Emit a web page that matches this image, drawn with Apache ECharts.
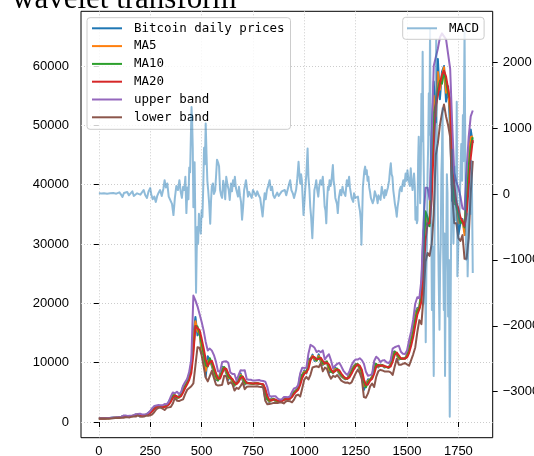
<!DOCTYPE html>
<html><head><meta charset="utf-8">
<script src="https://cdn.jsdelivr.net/npm/echarts@6/dist/echarts.min.js"></script>
<style>html,body{margin:0;padding:0;background:#fff}#c{width:534px;height:456px}</style>
</head><body><div id="c"></div>
<script>
// sampling step of the price-axis series (days)
const dayStep = 10;
const price = [607,606,603,612,638,652,704,705,738,765,
778,892,1033,823,924,1007,999,1125,1260,1240,
937,1143,1170,1240,1494,1760,2260,2490,2650,2710,
2500,2380,2830,2720,3420,4000,4760,4330,3910,4360,
4770,6000,6130,7140,8040,9890,14700,17700,14600,15200,
11500,11500,7600,11100,10400,9400,8200,7100,7000,8200,
9300,9200,8200,7100,7700,6500,6100,6800,7300,8200,
7000,6300,6700,6500,6500,6400,6600,6500,6400,6400,
6200,3800,3900,3300,4000,3800,3500,3580,3500,3600,
3980,3800,3900,4000,4900,5070,5400,5800,8000,7900,
8700,8200,10700,10600,11350,10300,10400,11400,10100,9600,
10100,10200,8300,8600,8200,9200,8800,8100,7700,7400,
7200,7400,8100,8900,9400,9800,9700,8800,8000,5400,
6300,7200,7100,7700,9900,9700,9200,9700,9500,9200,
9300,9100,9900,11700,11900,11300,10500,10700,10700,10700,
11400,13000,14000,16300,18400,19200,19300,23200,32200,34000,
33000,33500,47900,57400,50500,61200,54400,59000,60000,54000,
56600,49300,37300,36700,37300,31600,33500,34200,32100,41400,
45500,49300,47000];
const ma5 = [607,606,604,610,632,649,691,705,730,758,
775,864,998,875,899,986,1001,1094,1226,1245,
1013,1092,1163,1223,1431,1693,2135,2433,2610,2695,
2553,2410,2718,2748,3245,3855,4570,4438,4015,4248,
4668,5693,6098,6888,7815,9428,13500,17000,15300,15000,
12400,11500,8575,10225,10575,9650,8500,7375,7025,7900,
9025,9225,8450,7375,7550,6800,6200,6625,7175,7975,
7300,6475,6600,6550,6500,6425,6550,6525,6425,6400,
6250,4400,3875,3450,3825,3850,3575,3560,3520,3575,
3885,3845,3875,3975,4675,5028,5318,5700,7450,7925,
8500,8325,10075,10625,11163,10563,10375,11150,10425,9725,
9975,10175,8775,8525,8300,8950,8900,8275,7800,7475,
7250,7350,7925,8700,9275,9700,9725,9025,8200,6050,
6075,6975,7125,7550,9350,9750,9325,9575,9550,9275,
9275,9150,9700,11250,11850,11450,10700,10650,10700,10700,
11225,12600,13750,15725,17875,19000,19275,22500,29500,35000,
33500,33500,45500,55000,51500,59000,56000,58300,59800,55500,
56000,52000,40000,37000,36500,33500,33800,34000,31500,39500,
44800,48000,48200];
const ma10 = [607,606,605,608,625,645,678,705,722,752,
772,835,963,928,874,966,1003,1062,1193,1250,
1089,1040,1157,1205,1367,1627,2010,2375,2570,2680,
2605,2440,2605,2775,3070,3710,4380,4545,4120,4135,
4565,5385,6065,6635,7590,8965,12300,16200,16100,14900,
13300,11500,9550,9350,10750,9900,8800,7650,7050,7600,
8750,9250,8700,7650,7400,7100,6300,6450,7050,7750,
7600,6650,6500,6600,6500,6450,6500,6550,6450,6400,
6300,5000,3850,3600,3650,3900,3650,3540,3540,3550,
3790,3890,3850,3950,4450,4985,5235,5600,6900,7950,
8300,8450,9450,10650,10975,10825,10350,10900,10750,9850,
9850,10150,9250,8450,8400,8700,9000,8450,7900,7550,
7300,7300,7750,8500,9150,9600,9750,9250,8400,6700,
5850,6750,7150,7400,8800,9800,9450,9450,9600,9350,
9250,9200,9500,10800,11800,11600,10900,10600,10700,10700,
11050,12200,13500,15150,17350,18800,19250,21500,27500,35500,
34500,33000,41000,52000,53500,56000,57500,57000,59000,57500,
55300,54500,44000,37500,36500,35000,33500,33800,32800,37000,
43000,46500,48000];
const ma20 = [607,606,606,606,616,635,662,691,713,737,
762,803,899,945,901,920,984,1033,1127,1221,
1169,1064,1098,1181,1286,1497,1819,2193,2473,2625,
2643,2523,2523,2690,2923,3390,4045,4463,4333,4128,
4350,4975,5725,6350,7113,8278,11500,16200,15800,15500,
14100,12425,10525,9450,10050,10325,9350,8225,7350,7325,
8175,9000,8975,8175,7525,7250,6700,6375,6750,7400,
7675,7125,6575,6550,6550,6475,6475,6525,6500,6425,
6350,5650,4425,3725,3625,3775,3775,3595,3540,3545,
3670,3840,3870,3900,4200,4718,5110,5418,6250,7425,
8125,8375,8950,10400,11000,10900,10588,10625,10825,10300,
9850,10000,9700,8850,8425,8550,8850,8725,8175,7725,
7425,7300,7525,8125,8825,9375,9675,9500,8825,7200,
6275,6300,6950,7275,8100,9300,9625,9450,9525,9475,
9300,9225,9350,10150,11300,11700,11250,10750,10650,10700,
10875,11625,12850,14325,16250,18075,19025,20300,24500,30500,
33500,33500,37500,46500,53300,55000,57000,58500,59200,58200,
56200,54000,45000,40000,37000,36000,34500,33800,33000,35000,
39500,44500,47500];
const upperBand = [620,620,632,634,660,685,726,749,761,801,
816,909,1083,1085,1021,1062,1068,1143,1325,1335,
1403,1264,1278,1285,1526,1859,2335,2705,2797,2859,
2837,2815,3023,2996,3381,4268,4985,4833,5093,4728,
5022,6127,6743,7266,8505,10536,21300,20500,19500,18200,
16900,15400,13500,12050,12370,12030,11280,10135,8560,8475,
10080,10210,10240,9965,8340,8105,8100,6995,7920,8730,
8675,8725,7210,7125,7125,6985,6985,7040,7070,6935,
6910,6800,5900,4400,4300,4330,4330,3975,3788,3805,
4205,4225,4185,4290,5075,5668,5758,6222,8196,9163,
9099,9135,11500,13000,12800,12500,11790,12007,11757,12066,
10540,11048,11424,10398,9073,9496,9796,9973,9385,8671,
8235,7928,8573,9563,10197,10553,10527,10746,10429,9800,
8475,7784,7900,8075,10292,10996,10705,10112,10365,10429,
10068,9929,10352,12368,12600,12752,12850,11850,11512,11450,
12043,13773,15258,17241,19940,21023,20879,24000,33500,39500,
39500,37500,48000,60000,61500,62900,64800,65500,65000,64500,
62000,59500,50000,42000,40500,39500,38000,36000,35800,42500,
48000,51500,52500];
const lowerBand = [595,592,580,578,572,585,598,633,665,673,
708,697,715,805,781,778,900,923,929,1107,
935,864,918,1077,1046,1135,1303,1681,2149,2391,
2449,2231,2023,2384,2465,2512,3105,4093,3573,3528,
3678,3823,4707,5434,5721,6020,6500,9500,12600,12500,
11300,9400,7500,6850,7730,8620,7420,6315,6140,6175,
6270,7790,7710,6385,6710,6395,5300,5755,5580,6070,
6675,5525,5940,5975,5975,5965,5965,6010,5930,5915,
5790,3600,3000,3050,3100,3220,3220,3215,3292,3285,
3135,3455,3555,3510,3325,3768,4462,4614,4304,5687,
7151,7615,7164,7954,9200,9300,9390,9243,9893,8534,
9160,8952,7976,7302,7777,7604,7904,7477,6965,6779,
6615,6672,6477,6687,7453,8197,8823,8254,7221,4200,
4100,4816,6000,6475,5908,7604,8545,8788,8685,8521,
8532,8521,8348,7932,9348,10648,9650,9650,9788,9950,
9707,9477,10442,11409,12560,15127,17171,16500,21000,27000,
28500,28000,30000,35000,45000,47000,50000,52000,53500,51500,
50000,48000,38000,33500,33500,31000,30500,31500,27500,27500,
31000,38500,44000];

const macdDays = [0,12,25,40,55,70,85,100,108,115,122,130,138,146,155,163,170,178,186,194,202,210,218,226,234,242,250,256,262,270,277,284,291,298,306,314,320,326,333,340,348,356,363,370,377,385,392,398,404,410,416,421,426,431,436,440,444,448,451,454,457,460,463,466,469,473,476,479,483,487,491,496,500,504,508,512,516,520,524,528,532,537,542,546,550,555,560,566,571,575,580,585,590,595,600,605,610,615,620,626,632,637,643,648,653,658,662,667,672,677,682,687,692,697,702,707,712,716,721,726,731,737,744,750,757,764,771,778,785,792,797,802,807,812,818,824,831,837,843,849,855,861,868,875,883,890,898,905,912,920,926,931,937,944,950,955,960,966,972,976,980,984,988,992,996,1001,1005,1010,1016,1020,1025,1029,1033,1039,1044,1049,1054,1058,1063,1068,1072,1078,1084,1090,1095,1099,1103,1107,1111,1115,1119,1123,1127,1131,1135,1139,1143,1147,1151,1155,1159,1163,1168,1175,1180,1186,1190,1194,1200,1207,1212,1218,1222,1226,1230,1234,1238,1242,1248,1255,1261,1267,1271,1275,1278,1282,1285,1288,1292,1296,1300,1304,1308,1312,1316,1320,1324,1328,1333,1338,1343,1349,1353,1357,1361,1365,1371,1377,1381,1385,1389,1393,1397,1401,1407,1413,1417,1421,1425,1429,1433,1437,1441,1446,1450,1454,1459,1464,1469,1474,1478,1482,1487,1493,1498,1502,1506,1510,1514,1518,1522,1527,1531,1534,1538,1541,1545,1548,1551,1554,1557,1561,1564,1567,1570,1573,1576,1579,1582,1585,1588,1591,1594,1597,1600,1603,1606,1609,1612,1615,1618,1621,1625,1630,1633,1636,1639,1642,1645,1648,1651,1654,1658,1661,1664,1667,1670,1673,1676,1679,1682,1685,1688,1691,1694,1697,1700,1704,1708,1711,1714,1717,1720,1723,1726,1729,1732,1735,1738,1742,1745,1748,1752,1756,1760,1764,1768,1772,1775,1780,1783,1786,1789,1792,1795,1798,1801,1804,1807,1810,1813,1816,1820];
const macdValues = [10,8,12,5,10,15,5,25,-10,-45,15,5,30,-20,10,40,-30,-60,10,30,-10,20,60,-20,-60,40,90,-20,-80,-40,-120,-30,20,60,-30,80,210,100,160,-40,-30,-150,-320,-60,120,60,210,40,-60,110,60,260,-290,100,-80,400,330,900,1320,1100,700,-200,300,480,-300,-1500,-900,-500,-750,-300,-450,-600,-250,-350,100,700,450,1070,600,200,60,-150,-450,-100,120,160,0,50,300,520,480,420,60,-20,-60,200,120,-80,260,140,60,-90,160,40,210,120,260,90,60,-40,110,-30,-120,-390,-200,60,140,210,80,-40,30,10,-60,60,20,-30,40,-20,-60,-90,-340,-150,10,-80,60,120,210,60,110,-20,-60,-40,20,-30,-20,40,10,60,-20,80,150,210,60,10,-60,-70,60,240,490,300,160,300,210,-60,-320,-100,100,300,690,260,60,-200,-340,-670,-300,60,120,210,60,-40,100,210,140,260,40,-190,-250,-445,-100,110,60,210,120,160,300,440,200,110,-60,-40,-150,-290,-60,60,-20,110,40,60,-30,210,120,260,100,90,-60,-40,-120,10,-60,-90,-40,-190,-260,-400,-770,-300,100,210,350,415,300,360,200,260,100,30,-60,-40,-140,-90,40,60,-60,-140,-20,10,-90,110,40,10,-60,60,-20,30,100,210,360,465,300,260,60,-40,-150,-240,-344,-200,-90,60,110,40,150,210,120,310,200,360,250,260,120,390,200,60,200,310,100,-390,-200,-445,-395,500,870,300,-140,400,1520,800,2160,900,260,-1660,-900,-2250,-1200,-750,300,760,1530,900,2490,770,-300,-1760,-800,-2760,-1000,250,1200,2340,900,260,-500,-1250,-2060,-1100,-750,300,620,1300,-900,-1760,-600,-2760,-1200,-750,300,10,-1860,-1000,-3380,-2260,-900,300,670,-200,-750,-250,200,415,-400,1400,-1250,-1000,-400,-250,300,760,200,1200,500,2500,900,-600,-1000,-300,-1250,-800,-500,-100,160,-300,500,160,-1200];

const xTicks = [0,250,500,750,1000,1250,1500,1750];
const yTicksLeft = [0,10000,20000,30000,40000,50000,60000];
const yTicksRight = [-3000,-2000,-1000,0,1000,2000];
const seriesNames = ['Bitcoin daily prices','MA5','MA10','MA20','upper band','lower band'];
const seriesColors = ['#1f77b4','#ff7f0e','#2ca02c','#d62728','#9467bd','#8c564b'];
const seriesArrays = [price, ma5, ma10, ma20, upperBand, lowerBand];

const chart = echarts.init(document.getElementById('c'), null, {renderer:'canvas'});
const toPairs = arr => arr.map((v, i) => [i * dayStep, v]);
const plainNum = v => v < 0 ? '\u2212' + String(-v) : String(v);
const tickFont = {color:'#000', fontSize:13, fontFamily:'"Liberation Sans", Arial, sans-serif', formatter:plainNum};
const tickStyle = {show:true, length:5, inside:false, lineStyle:{color:'#000', width:1}};
const gridLine = {show:true, lineStyle:{color:'#cccccc', width:1, type:[1,2]}};
const legendText = {fontFamily:'"DejaVu Sans Mono", monospace', fontSize:12.5, color:'#000', lineHeight:14, padding:[0,0,0,7]};

const series = seriesArrays.map((arr, k) => ({
  type:'line', name:seriesNames[k], data:toPairs(arr), yAxisIndex:0, xAxisIndex:0,
  showSymbol:false, symbol:'none', silent:true, z:2,
  lineStyle:{width:2, color:seriesColors[k], join:'round'}, itemStyle:{color:seriesColors[k]}
}));
series.push({
  type:'line', name:'MACD', data:macdDays.map((d, i) => [d, macdValues[i]]), yAxisIndex:1, xAxisIndex:0,
  showSymbol:false, symbol:'none', silent:true, z:5,
  lineStyle:{width:2, color:'#1f77b4', opacity:0.5, join:'round'}, itemStyle:{color:'#1f77b4'}
});

chart.setOption({
  animation:false,
  backgroundColor:'#fff',
  grid:{left:81, right:41.3, top:11.3, bottom:18.3, show:true, borderColor:'#000', borderWidth:1,
        backgroundColor:'transparent', containLabel:false, outerBoundsMode:'none'},
  xAxis:{type:'value', min:-87, max:1917,
    axisLine:{show:false}, axisTick:Object.assign({customValues:xTicks}, tickStyle),
    axisLabel:Object.assign({margin:7, customValues:xTicks}, tickFont),
    splitLine:gridLine},
  yAxis:[
    {type:'value', min:-2646, max:69220, position:'left',
     axisLine:{show:false}, axisTick:Object.assign({customValues:yTicksLeft}, tickStyle),
     axisLabel:Object.assign({margin:12, customValues:yTicksLeft}, tickFont),
     splitLine:gridLine},
    {type:'value', min:-3698, max:2772, position:'right',
     axisLine:{show:false}, axisTick:Object.assign({customValues:yTicksRight}, tickStyle),
     axisLabel:Object.assign({margin:10, customValues:yTicksRight}, tickFont),
     splitLine:{show:false}}
  ],
  legend:[
    {orient:'vertical', left:87, top:17.7, padding:[3.6,6,5,5], itemGap:3.8, itemWidth:30, itemHeight:2,
     icon:'rect', backgroundColor:'rgba(255,255,255,0.8)', borderColor:'#cccccc', borderWidth:1, borderRadius:3,
     textStyle:legendText, data:seriesNames, selectedMode:false, z:3},
    {orient:'vertical', left:402.7, top:17.3, padding:[4,5,4,4.3], itemGap:3.8, itemWidth:30, itemHeight:2,
     icon:'rect', backgroundColor:'rgba(255,255,255,0.8)', borderColor:'#cccccc', borderWidth:1, borderRadius:3,
     textStyle:legendText, data:[{name:'MACD', itemStyle:{color:'rgba(31,119,180,0.5)'}}], selectedMode:false, z:6}
  ],
  graphic:[{type:'text', x:12, y:0, silent:true,
    style:{text:'wavelet transform', font:'31px "Liberation Serif", "Times New Roman", serif', fill:'#000', align:'left', verticalAlign:'middle'}}],
  series:series
});
</script></body></html>
